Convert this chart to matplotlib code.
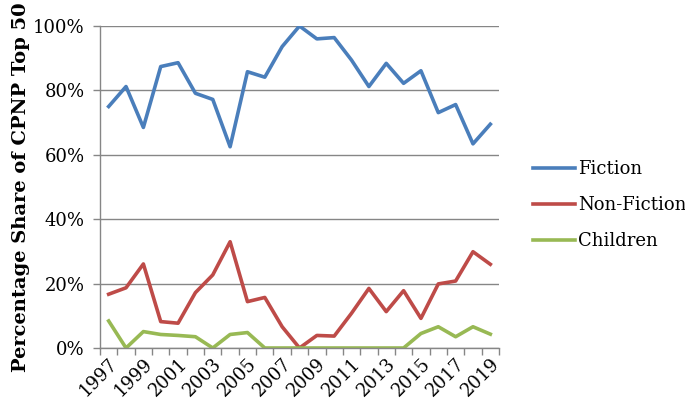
import matplotlib
matplotlib.use("Agg")
import matplotlib.pyplot as plt
import numpy as np

years = list(range(1997, 2020))
fiction = [75.0, 81.2, 68.5, 87.4, 88.6, 79.1, 77.2, 62.5, 85.8, 84.1, 93.6, 100.0,
           96.0, 96.4, 89.4, 81.2, 88.4, 82.2, 86.1, 73.1, 75.6, 63.4, 69.5]
non_fiction = [16.7, 18.7, 26.1, 8.2, 7.7, 17.2, 22.7, 33.0, 14.4, 15.7, 6.6, 0.0,
               3.9, 3.7, 10.8, 18.5, 11.3, 17.8, 9.2, 19.9, 20.8, 29.9, 26.0]
children = [8.4, 0.0, 5.1, 4.2, 3.9, 3.5, 0.0, 4.2, 4.8, 0.0, 0.0, 0.0,
            0.0, 0.0, 0.0, 0.0, 0.0, 0.0, 4.5, 6.6, 3.5, 6.6, 4.3]

W, H = 685, 407
fig = plt.figure(figsize=(W / 100, H / 100), dpi=100)
ax = fig.add_axes([100 / W, 1 - 348 / H, 399 / W, 322 / H])

plt.rcParams['font.family'] = 'DejaVu Serif'
grid_c = "#868686"

x = np.arange(len(years))
ax.plot(x, fiction, color="#4A7EBB", lw=2.6, label="Fiction", solid_joinstyle="round")
ax.plot(x, non_fiction, color="#BE4B48", lw=2.6, label="Non-Fiction", solid_joinstyle="round")
ax.plot(x, children, color="#98B954", lw=2.6, label="Children", solid_joinstyle="round")

ax.set_xlim(-0.5, len(years) - 0.5)
ax.set_ylim(0, 100)

ax.set_yticks(range(0, 101, 20))
ax.set_yticklabels(["%d%%" % v for v in range(0, 101, 20)], fontsize=13, family="DejaVu Serif")
ax.yaxis.grid(True, color=grid_c, lw=1.0)
ax.set_axisbelow(True)

ax.set_xticks(np.arange(-0.5, len(years), 1.0))
ax.set_xticklabels([])
ax.set_xticks(x[::2], minor=True)
ax.set_xticklabels([str(y) for y in years[::2]], minor=True, rotation=45,
                   ha="right", rotation_mode="anchor", fontsize=13, family="DejaVu Serif")
ax.tick_params(axis="x", which="major", length=5, color=grid_c, width=1, direction="out")
ax.tick_params(axis="x", which="minor", length=0, pad=5)
ax.tick_params(axis="y", length=5, color=grid_c, width=1, pad=6)

for s in ["top", "right"]:
    ax.spines[s].set_visible(False)
for s in ["left", "bottom"]:
    ax.spines[s].set_color(grid_c)
    ax.spines[s].set_linewidth(1.0)

ax.set_ylabel("Percentage Share of CPNP Top 50", fontsize=14, fontweight="bold",
              family="DejaVu Serif", labelpad=2)

leg = fig.legend(loc="center left", bbox_to_anchor=(533 / W, 1 - 205 / H), frameon=False,
                 prop={"family": "DejaVu Serif", "size": 13}, handlelength=2.3,
                 handletextpad=0.2, labelspacing=1.0, borderpad=0, borderaxespad=0)

fig.savefig("out.png", dpi=100)
